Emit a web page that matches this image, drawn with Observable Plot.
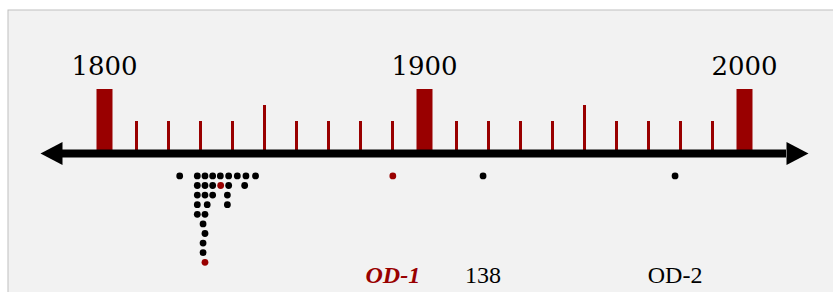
<!DOCTYPE html>
<html><head><meta charset="utf-8">
<script src="https://cdn.jsdelivr.net/npm/d3@7"></script>
<script src="https://cdn.jsdelivr.net/npm/@observablehq/plot@0.6"></script>
<style>html,body{margin:0;padding:0;background:#fff;overflow:hidden}</style>
</head><body><div id="chart"></div>
<script>
// ---- data ----
const centuryYears = [1800, 1900, 2000];
const centuryLabels = ["1800", "1900", "2000"];
const halfCenturyYears = [1850, 1950];
const decadeYears = [1810, 1820, 1830, 1840, 1860, 1870, 1880, 1890,
                     1910, 1920, 1930, 1940, 1960, 1970, 1980, 1990];
const tickLevel = {decade: 10, half: 15, century: 20};
const axisSpan = [1780, 2020];

// dot plot: year, stack row (1 = next to the axis), highlighted?
const dotYears = [
  1823.5, 1829, 1831.4, 1833.8, 1836.2, 1838.8, 1841.5, 1844.2, 1847.2,
  1829, 1831.4, 1833.8, 1836.3, 1838.8, 1843.8,
  1829, 1831.4, 1833.8, 1838.4,
  1829, 1832.1, 1838.4,
  1829, 1831.4,
  1830.8, 1831.4, 1830.8, 1830.8, 1831.4,
  1890.1, 1918.3, 1978.3
];
const dotRows = [
  1, 1, 1, 1, 1, 1, 1, 1, 1,
  2, 2, 2, 2, 2, 2,
  3, 3, 3, 3,
  4, 4, 4,
  5, 5,
  6, 7, 8, 9, 10,
  1, 1, 1
];
const dotHighlight = [
  0, 0, 0, 0, 0, 0, 0, 0, 0,
  0, 0, 0, 1, 0, 0,
  0, 0, 0, 0,
  0, 0, 0,
  0, 0,
  0, 0, 0, 0, 1,
  1, 0, 0
];

const noteYears = [1890.1, 1918.3, 1978.3];
const noteLabels = ["OD-1", "138", "OD-2"];
const noteHighlight = [1, 0, 0];

// ---- build ----
const RED = "#990000";
const dots = dotYears.map((year, i) => ({year, row: dotRows[i], hi: dotHighlight[i]}));
const notes = noteYears.map((year, i) => ({year, label: noteLabels[i], hi: noteHighlight[i]}));

const arrowRight = {draw(ctx) { ctx.moveTo(0, 0); ctx.lineTo(-22, -11.5); ctx.lineTo(-22, 11.5); ctx.closePath(); }};
const arrowLeft = {draw(ctx) { ctx.moveTo(0, 0); ctx.lineTo(22, -11.5); ctx.lineTo(22, 11.5); ctx.closePath(); }};

const chart = Plot.plot({
  width: 833,
  height: 292,
  margin: 0,
  style: {background: "#ffffff"},
  x: {domain: [1800, 2000], range: [104, 744], axis: null},
  y: {domain: [0, 20], range: [153, 89], axis: null},
  marks: [
    Plot.frame({fill: "#f2f2f2", stroke: "#bfbfbf", strokeWidth: 1,
                insetLeft: 7.5, insetTop: 9.5, insetRight: -10, insetBottom: -10}),
    Plot.ruleX(decadeYears, {x: d => d, y1: 0, y2: tickLevel.decade, stroke: RED, strokeWidth: 3}),
    Plot.ruleX(halfCenturyYears, {x: d => d, y1: 0, y2: tickLevel.half, stroke: RED, strokeWidth: 3}),
    Plot.ruleX(centuryYears, {x: d => d, y1: 0, y2: tickLevel.century, stroke: RED, strokeWidth: 16}),
    Plot.ruleY([0], {x1: axisSpan[0], x2: axisSpan[1], insetLeft: 22, insetRight: 22,
                     stroke: "#000", strokeWidth: 8}),
    Plot.dot([axisSpan[0]], {x: d => d, y: 0, symbol: arrowLeft, fill: "#000", stroke: "none"}),
    Plot.dot([axisSpan[1]], {x: d => d, y: 0, symbol: arrowRight, fill: "#000", stroke: "none"}),
    Plot.text(centuryYears, {x: d => d, text: (d, i) => centuryLabels[i],
      frameAnchor: "top", lineAnchor: "bottom", dy: 74,
      fontSize: 26, fontFamily: "DejaVu Serif", fill: "#000"}),
    Plot.dot(dots, {x: "year", y: d => -3 * d.row, dy: 12.8, r: 3.4, stroke: "none",
      fill: d => d.hi ? RED : "#000"}),
    Plot.text(notes.filter(d => !d.hi), {x: "year", text: "label",
      frameAnchor: "bottom", lineAnchor: "bottom", dy: -10,
      fontSize: 24, fontFamily: "Liberation Serif", fill: "#000"}),
    Plot.text(notes.filter(d => d.hi), {x: "year", text: "label",
      frameAnchor: "bottom", lineAnchor: "bottom", dy: -10,
      fontSize: 24, fontFamily: "Liberation Serif", fontWeight: "bold", fontStyle: "italic", fill: RED})
  ]
});
document.getElementById("chart").appendChild(chart);
</script>
</body></html>
